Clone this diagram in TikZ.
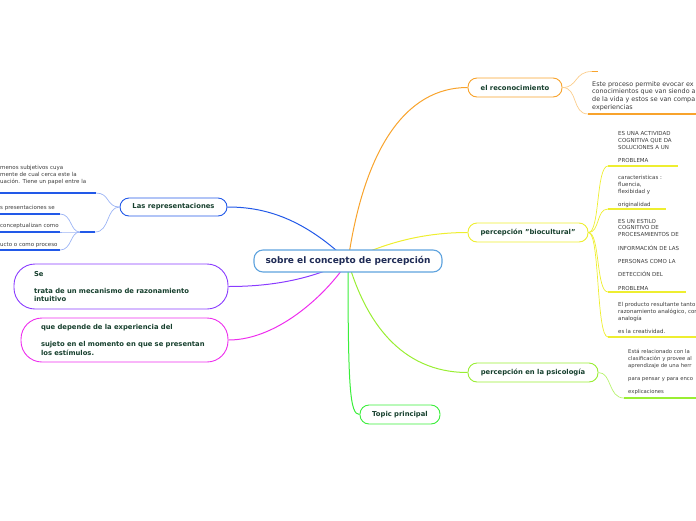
\documentclass[tikz,border=0pt]{standalone}
\usepackage{fontspec}
\setmainfont{DejaVu Sans}
\usetikzlibrary{backgrounds}
\definecolor{mapNavy}{HTML}{1F2B55}
\definecolor{mapText}{HTML}{17402E}
\definecolor{leafText}{HTML}{3C3C3C}
\definecolor{brMain}{HTML}{5FA3DE}
\definecolor{brOrange}{HTML}{F8A32C}
\definecolor{brYellow}{HTML}{EEEE30}
\definecolor{brLime}{HTML}{99EE33}
\definecolor{brGreen}{HTML}{3BEE3B}
\definecolor{brBlue}{HTML}{2259E8}
\definecolor{brPurple}{HTML}{8A3CFF}
\definecolor{brMagenta}{HTML}{EE2EEE}

\begin{document}
\begin{tikzpicture}[x=1pt,y=-1pt,
  topic/.style={draw,fill=white,line width=0.9pt,rounded corners=9pt,minimum height=19pt,inner sep=0pt,text=mapText,font=\bfseries\fontsize{6.8}{8.5}\selectfont},
  bubble/.style={topic,rounded corners=21pt,align=left},
  leaf/.style={anchor=north west,align=left,inner sep=0pt,text=leafText},
  branch/.style={line width=1pt},
  twig/.style={line width=0.7pt},
  uline/.style={line width=1.5pt}]
\useasboundingbox (0,0) rectangle (696,520);

% topics
\node[topic,draw=brMain,line width=1.1pt,minimum width=188pt,minimum height=22pt,text=mapNavy,font=\bfseries\fontsize{9}{11}\selectfont] (main) at (348,261) {sobre el concepto de percepción};
\node[topic,draw=brOrange,minimum width=94pt] (reco) at (515,87.5) {el reconocimiento};
\node[topic,draw=brYellow,minimum width=120pt] (bio) at (528,232.5) {percepción "biocultural"};
\node[topic,draw=brLime,minimum width=130pt] (psico) at (533,372.5) {percepción en la psicología};
\node[topic,draw=brGreen,minimum width=80pt] (princ) at (400,414.5) {Topic principal};
\node[topic,draw=brBlue,minimum width=107pt,minimum height=18pt] (repr) at (173.5,207) {Las representaciones};
\node[bubble,draw=brPurple,minimum width=214pt,minimum height=45pt,text width=174pt] (intu) at (121,286.5) {Se\\[8.5pt]trata de un mecanismo de razonamiento\\intuitivo};
\node[bubble,draw=brMagenta,minimum width=207pt,minimum height=44pt,text width=167pt] (expe) at (124.5,340) {que depende de la experiencia del\\[8.5pt]sujeto en el momento en que se presentan\\los estímulos.};

% leaves
\node[leaf,font=\fontsize{6.4}{7.8}\selectfont] (recoTxt) at (592,81) {Este proceso permite evocar ex\\conocimientos que van siendo a\\de la vida y estos se van compa\\experiencias};
\node[leaf,font=\fontsize{5.5}{6.7}\selectfont] (bioA) at (618,131.5) {ES UNA ACTIVIDAD\\COGNITIVA QUE DA\\SOLUCIONES A UN\\[6.7pt]PROBLEMA};
\node[leaf,font=\fontsize{5.5}{6.7}\selectfont] (bioB) at (618,175.5) {caracteristicas :\\fluencia,\\flexibidad y\\[6.7pt]originalidad};
\node[leaf,font=\fontsize{5.5}{6.7}\selectfont] (bioC) at (618,219) {ES UN ESTILO\\COGNITIVO DE\\PROCESAMIENTOS DE\\[6.7pt]INFORMACIÓN DE LAS\\[6.7pt]PERSONAS COMO LA\\[6.7pt]DETECCIÓN DEL\\[6.7pt]PROBLEMA};
\node[leaf,font=\fontsize{5.5}{6.7}\selectfont] (bioD) at (618,302.4) {El producto resultante tanto\\razonamiento analógico, cor\\analogía\\[6.7pt]es la creatividad.};
\node[leaf,font=\fontsize{5.3}{6.6}\selectfont] (psicoTxt) at (628,349.5) {Está relacionado con la\\clasificación y provee al\\aprendizaje de una herr\\[6.6pt]para pensar y para enco\\[6.6pt]explicaciones};
\node[leaf,font=\fontsize{5.5}{7}\selectfont] (reprA) at (0,165.4) {menos subjetivos cuya\\mente de cual cerca este la\\uación. Tiene un papel entre la};
\node[leaf,anchor=base west,font=\fontsize{5.5}{7}\selectfont] (reprB) at (0,209.5) {s presentaciones se};
\node[leaf,anchor=base west,font=\fontsize{5.5}{7}\selectfont] (reprC) at (0,227.5) {conceptualizan como};
\node[leaf,anchor=base west,font=\fontsize{5.5}{7}\selectfont] (reprD) at (0,246) {ucto o como proceso};

% underline ends
\coordinate (r0) at (592,71.5); \coordinate (r1) at (588,114);
\coordinate (p1) at (624,398);
\coordinate (l1) at (96,193); \coordinate (lm) at (95,232); \coordinate (lk) at (80,232);

\begin{scope}[on background layer]
\draw[branch,brOrange] (main.center) .. controls (364,150) and (405,87.5) .. (reco.west);
\draw[branch,brYellow] (main.center) .. controls (390,240) and (430,232.5) .. (bio.west);
\draw[branch,brLime] (main.center) .. controls (365,320) and (400,372.5) .. (psico.west);
\draw[branch,brGreen] (main.center) .. controls (348,390) and (350,414.5) .. (princ.west);
\draw[branch,brBlue] (main.center) .. controls (300,215) and (260,207) .. (repr.east);
\draw[branch,brPurple] (main.center) .. controls (310,280) and (270,286.5) .. (intu.east);
\draw[branch,brMagenta] (main.center) .. controls (330,290) and (280,340) .. (expe.east);
\end{scope}

% orange leaves
\draw[twig,brOrange!55] (reco.east) .. controls (578,87.5) and (574,71.5) .. (r0);
\draw[twig,brOrange!55] (reco.east) .. controls (578,87.5) and (572,114) .. (r1);
\draw[uline,brOrange] (r0) -- (598,71.5);
\draw[uline,brOrange] (r1) -- (696,114);
% yellow leaves
\foreach \y/\e in {166/678,209/666,292/686,337/696}{
  \coordinate (b\y) at (608,\y);
  \draw[twig,brYellow] (bio.east) .. controls (600,232.5) and (596,\y) .. (b\y);
  \draw[uline,brYellow] (b\y) -- (\e,\y);
}
% lime leaf
\draw[twig,brLime!70] (psico.east) .. controls (612,372.5) and (608,398) .. (p1);
\draw[uline,brLime] (p1) -- (696,398);
% blue leaves
\draw[twig,brBlue!45] (repr.west) .. controls (106,207) and (110,193) .. (l1);
\draw[twig,brBlue!45] (repr.west) .. controls (106,207) and (110,232) .. (lm);
\draw[uline,brBlue] (l1) -- (0,193);
\draw[uline,brBlue] (lm) -- (lk);
\foreach \y in {214,232,250}{
  \coordinate (s\y) at (60,\y);
  \draw[twig,brBlue!45] (lk) .. controls (70,232) and (72,\y) .. (s\y);
  \draw[uline,brBlue] (s\y) -- (0,\y);
}
\end{tikzpicture}
\end{document}
